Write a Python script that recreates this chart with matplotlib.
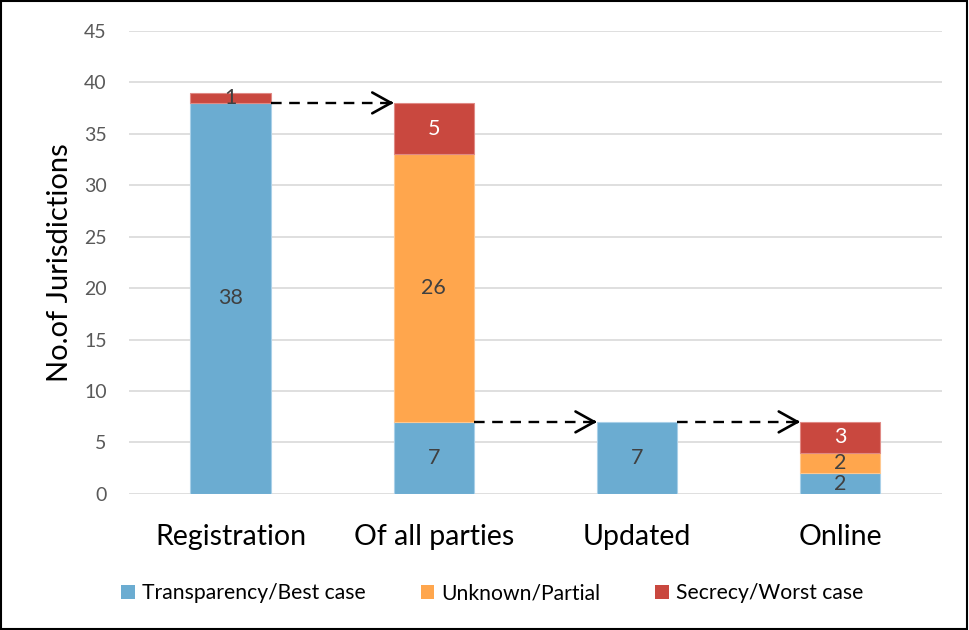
import matplotlib
matplotlib.use("Agg")
import matplotlib.pyplot as plt
from matplotlib.patches import Rectangle, Patch
import numpy as np

plt.rcParams['font.family'] = ['Lato', 'DejaVu Sans']

categories = ["Registration", "Of all parties", "Updated", "Online"]
transparency = [38, 7, 7, 2]
unknown = [0, 26, 0, 2]
secrecy = [1, 5, 0, 3]
series_names = ["Transparency/Best case", "Unknown/Partial", "Secrecy/Worst case"]
colors = ["#6BACD1", "#FFA64D", "#C9483F"]
edge_colors = ["#A9D0E8", "#FFC890", "#E08A85"]
label_colors = ["#404040", "#404040", "white"]
yticks = [0, 5, 10, 15, 20, 25, 30, 35, 40, 45]

fig = plt.figure(figsize=(9.69, 6.30), dpi=100)
ax = fig.add_axes([0.133, 0.216, 0.839, 0.735])

x = np.arange(len(categories))
w = 0.394
bottom = np.zeros(len(categories))
series = [transparency, unknown, secrecy]
for s, vals in enumerate(series):
    vals = np.array(vals, dtype=float)
    mask = vals > 0
    ax.bar(x[mask], vals[mask], w, bottom=bottom[mask], color=colors[s],
           edgecolor=edge_colors[s], linewidth=0.8, zorder=3, label=series_names[s])
    for i, v in enumerate(vals):
        if v > 0:
            c = label_colors[s]
            if s == 2 and v < 2:
                c = "#404040"
            ax.text(x[i], bottom[i] + v / 2, f"{int(v)}", ha="center", va="center",
                    fontsize=15.5, color=c, zorder=5)
    bottom += vals

# dashed arrows linking bars
arrow_pairs = [(0, 1, transparency[0]), (1, 2, transparency[1]), (2, 3, transparency[2])]
for a, b, yv in arrow_pairs:
    x0 = x[a] + w / 2
    x1 = x[b] - w / 2
    ax.plot([x0, x1 - 0.01], [yv, yv], color="black", lw=1.7,
            linestyle=(0, (4.5, 3.2)), zorder=6, solid_capstyle="butt")
    ax.annotate("", xy=(x1, yv), xytext=(x1 - 0.02, yv),
                arrowprops=dict(arrowstyle="->,head_length=0.9,head_width=0.5", lw=1.9,
                                color="black", mutation_scale=15, shrinkA=0, shrinkB=0),
                zorder=6)

ax.set_xlim(-0.5, 3.5)
ax.set_ylim(0, 45)
ax.set_yticks(yticks)
ax.yaxis.grid(True, color="#D9D9D9", linewidth=1.2, zorder=0)
ax.set_axisbelow(True)
for sp in ax.spines.values():
    sp.set_visible(False)
ax.tick_params(axis="both", length=0)
ax.tick_params(axis="y", labelsize=14, labelcolor="#595959", pad=16)
ax.set_xticks(x)
ax.set_xticklabels(categories, fontsize=20.5, color="black")
ax.tick_params(axis="x", pad=22)
ax.set_ylabel("No.of Jurisdictions", fontsize=21, labelpad=8)

handles = [Patch(facecolor=colors[i], edgecolor='none') for i in range(3)]
fig.legend(handles, series_names, loc="center", bbox_to_anchor=(0.508, 0.058), ncol=3,
           frameon=False, fontsize=15.2, handlelength=0.63, handleheight=0.63,
           handletextpad=0.35, columnspacing=2.6)

fig.add_artist(Rectangle((0.001, 0.001), 0.997, 0.997, transform=fig.transFigure,
                         fill=False, edgecolor="black", linewidth=1.5))

fig.savefig("out.png", dpi=100)
